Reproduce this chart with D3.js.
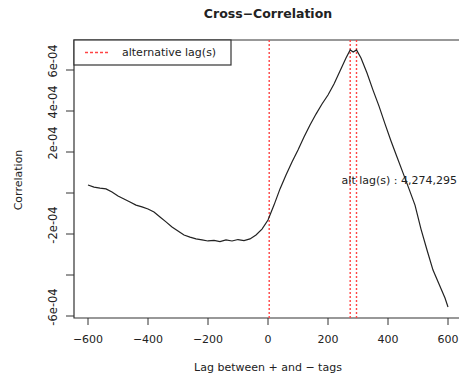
<!DOCTYPE html>
<html>
<head>
<meta charset="utf-8">
<script src="https://cdn.jsdelivr.net/npm/d3@7"></script>
<style>
  body { margin: 0; background: #fff; }
  text { font-family: "DejaVu Sans", "Liberation Sans", Arial, sans-serif; fill: #222; }
</style>
</head>
<body>
<div id="chart"></div>
<script>
// Data (correlation in units of 1e-4)
const lags = [-600, -580, -560, -540, -520, -500, -480, -460, -440, -420, -400, -380, -360, -340, -320,
  -300, -280, -260, -240, -220, -200, -180, -160, -140, -120, -100, -80, -60, -40, -20,
  0, 20, 40, 60, 80, 100, 120, 140, 160, 180, 200, 220, 240, 260, 274, 284, 295,
  310, 330, 350, 370, 390, 410, 430, 450, 470, 490, 510, 530, 550, 570, 590, 600];
const corrE4 = [0.39, 0.29, 0.24, 0.20, 0.05, -0.15, -0.29, -0.44, -0.59, -0.68, -0.78, -0.93, -1.17, -1.41, -1.66,
  -1.85, -2.05, -2.15, -2.24, -2.29, -2.34, -2.31, -2.37, -2.29, -2.34, -2.27, -2.32, -2.24, -2.05, -1.76,
  -1.32, -0.59, 0.20, 0.88, 1.51, 2.10, 2.73, 3.32, 3.85, 4.34, 4.78, 5.32, 5.95, 6.59, 6.98, 6.88, 6.98,
  6.59, 5.85, 5.02, 4.24, 3.37, 2.54, 1.76, 0.98, 0.20, -0.59, -1.76, -2.78, -3.76, -4.44, -5.12, -5.56];
const altLags = [4, 274, 295];
const xTicks = [-600, -400, -200, 0, 200, 400, 600];
const yTicks = [6e-4, 4e-4, 2e-4, 0, -2e-4, -4e-4, -6e-4];
const yTickLabels = ["6e-04", "4e-04", "2e-04", "", "-2e-04", "", "-6e-04"];

const data = lags.map((l, i) => ({ lag: l, corr: corrE4[i] * 1e-4 }));

const width = 459, height = 377;
const frame = { left: 74, top: 40, bottom: 318, right: 470 };

const x = d3.scaleLinear().domain([-600, 600]).range([88, 448]);
const y = d3.scaleLinear().domain([-6e-4, 6e-4]).range([316, 70]);

const svg = d3.select("#chart").append("svg")
  .attr("width", width)
  .attr("height", height);

// Title
svg.append("text")
  .attr("x", 268).attr("y", 18)
  .attr("text-anchor", "middle")
  .style("font-size", "12.5px")
  .style("font-weight", "bold")
  .text("Cross\u2212Correlation");

// Frame (right side falls outside the picture)
svg.append("path")
  .attr("d", `M${frame.right},${frame.top}H${frame.left}V${frame.bottom}H${frame.right}`)
  .attr("fill", "none")
  .attr("stroke", "#333")
  .attr("stroke-width", 1.2);

// X axis
const xAxis = svg.append("g").attr("transform", `translate(0,${frame.bottom})`);
xAxis.selectAll("line").data(xTicks).enter().append("line")
  .attr("x1", d => x(d)).attr("x2", d => x(d))
  .attr("y1", 0).attr("y2", 7)
  .attr("stroke", "#333");
xAxis.selectAll("text").data(xTicks).enter().append("text")
  .attr("x", d => x(d)).attr("y", 25)
  .attr("text-anchor", "middle")
  .style("font-size", "11px")
  .text(d => d < 0 ? "\u2212" + Math.abs(d) : d);

// Y axis (labels sit slightly above their ticks, as in the source)
const yAxis = svg.append("g").attr("transform", `translate(${frame.left},0)`);
yAxis.selectAll("line").data(yTicks).enter().append("line")
  .attr("x1", -8).attr("x2", 0)
  .attr("y1", d => y(d)).attr("y2", d => y(d))
  .attr("stroke", "#333");
yAxis.selectAll("text").data(yTicks).enter().append("text")
  .attr("transform", d => `translate(-17,${y(d) - 9}) rotate(-90)`)
  .attr("text-anchor", "middle")
  .style("font-size", "11.5px")
  .text((d, i) => yTickLabels[i]);

// Axis titles
svg.append("text")
  .attr("x", 268).attr("y", 371)
  .attr("text-anchor", "middle")
  .style("font-size", "11px")
  .text("Lag between + and \u2212 tags");

svg.append("text")
  .attr("transform", "translate(22,180) rotate(-90)")
  .attr("text-anchor", "middle")
  .style("font-size", "11px")
  .text("Correlation");

// Alternative lag lines
svg.selectAll(".alt").data(altLags).enter().append("line")
  .attr("class", "alt")
  .attr("x1", d => x(d)).attr("x2", d => x(d))
  .attr("y1", frame.top).attr("y2", frame.bottom)
  .attr("stroke", "#f44")
  .attr("stroke-width", 1.4)
  .attr("stroke-dasharray", "2,2");

// Correlation curve
svg.append("path")
  .datum(data)
  .attr("fill", "none")
  .attr("stroke", "#222")
  .attr("stroke-width", 1.2)
  .attr("d", d3.line().x(d => x(d.lag)).y(d => y(d.corr)));

// Annotation
svg.append("text")
  .attr("x", 457).attr("y", 184)
  .attr("text-anchor", "end")
  .style("font-size", "11px")
  .text("alt lag(s) : " + altLags.join(","));

// Legend
const legend = svg.append("g");
legend.append("rect")
  .attr("x", frame.left).attr("y", frame.top)
  .attr("width", 157).attr("height", 25)
  .attr("fill", "#fff")
  .attr("stroke", "#333")
  .attr("stroke-width", 1.2);
legend.append("line")
  .attr("x1", 85).attr("x2", 110)
  .attr("y1", 52.5).attr("y2", 52.5)
  .attr("stroke", "#f44")
  .attr("stroke-width", 1.4)
  .attr("stroke-dasharray", "3,2");
legend.append("text")
  .attr("x", 122).attr("y", 56)
  .style("font-size", "11px")
  .text("alternative lag(s)");
</script>
</body>
</html>
